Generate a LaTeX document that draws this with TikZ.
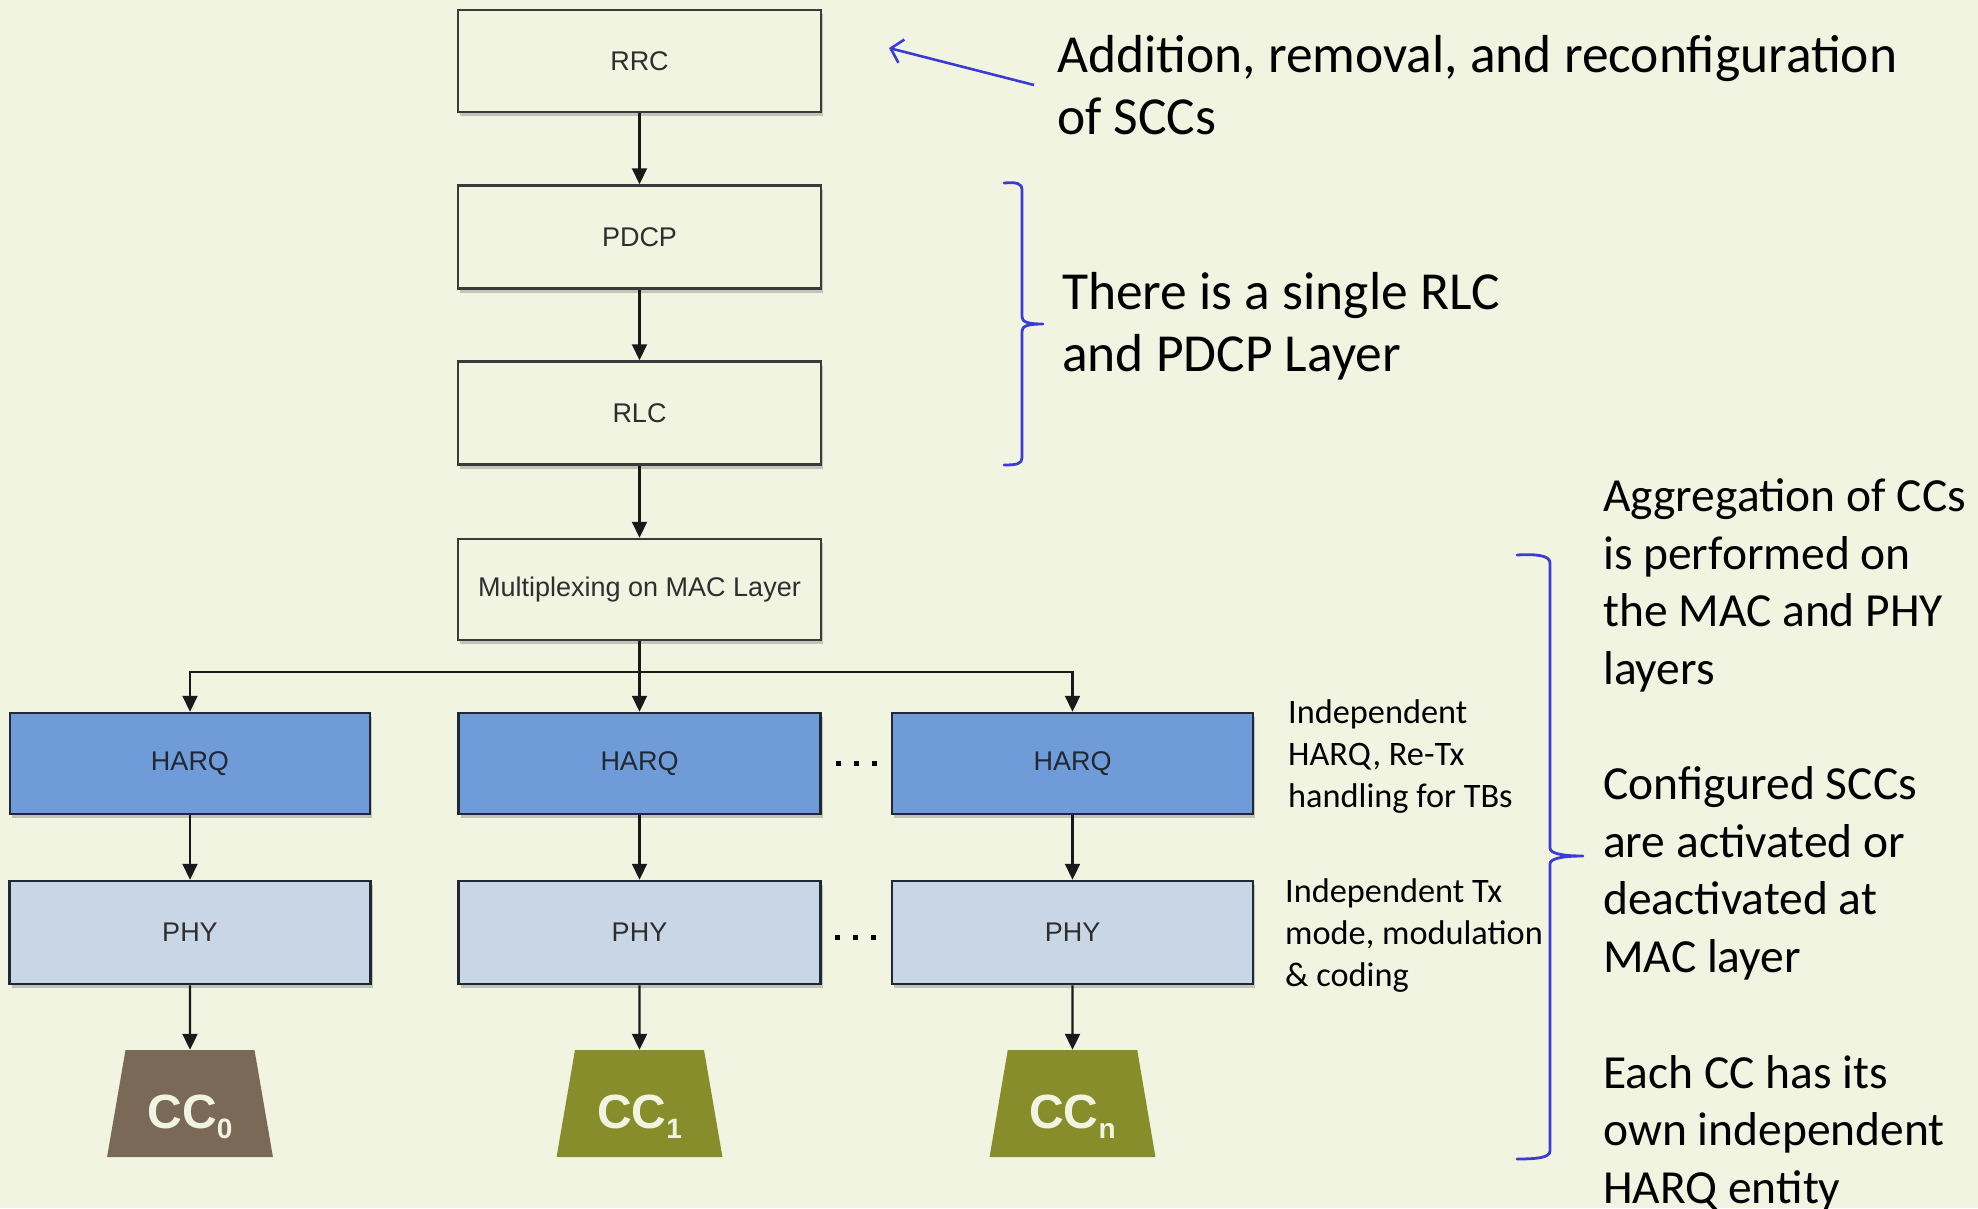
\documentclass[tikz,border=0pt]{standalone}
\usepackage{fontspec}
\setmainfont{Liberation Sans}
\newfontfamily\calibri{Carlito}
\usetikzlibrary{arrows.meta,shapes.geometric,shadows}

\definecolor{bgcol}{HTML}{F1F4E1}
\definecolor{boxline}{HTML}{3A3A3A}
\definecolor{boxtext}{HTML}{2E2E2E}
\definecolor{harqfill}{HTML}{6F9CD9}
\definecolor{harqline}{HTML}{1F2833}
\definecolor{phyfill}{HTML}{C9D6E6}
\definecolor{ccbrown}{HTML}{7A6956}
\definecolor{ccolive}{HTML}{868D2A}
\definecolor{annblue}{HTML}{3C3CD2}
\definecolor{shadowcol}{HTML}{C2C4BA}

\tikzset{
  layer/.style={draw=boxline, line width=2.5pt, fill=bgcol, text=boxtext,
    font=\fontsize{27}{30}\selectfont, inner sep=0pt,
    drop shadow={shadow xshift=2pt, shadow yshift=-4pt, fill=shadowcol, opacity=1}},
  harqbox/.style={layer, draw=harqline, fill=harqfill, text=harqline},
  phybox/.style={layer, draw=harqline, fill=phyfill},
  ccbox/.style={trapezium, trapezium stretches=true, draw=none, inner sep=1pt,
    minimum width=166pt, minimum height=107pt,
    trapezium left angle=76.3, trapezium right angle=76.3,
    text=bgcol, text height=49pt, text depth=0pt,
    font=\bfseries\fontsize{48}{50}\selectfont},
  arr/.style={draw=black!90, line width=2.2pt, -{Triangle[length=16pt,width=15pt]}},
  brace/.style={draw=annblue, line width=2.8pt, line cap=round, line join=round},
  % multi-line notes are anchored on the baseline of their last line
  bigtext/.style={anchor=base west, align=left, inner sep=0pt,
    font=\calibri\fontsize{53.5}{62}\selectfont},
  sidetext/.style={anchor=base west, align=left, inner sep=0pt,
    font=\calibri\fontsize{47.5}{57.5}\selectfont},
  smalltext/.style={anchor=base west, align=left, inner sep=0pt,
    font=\calibri\fontsize{34.3}{42}\selectfont},
  dotsrow/.style={inner sep=0pt, text=black}
}

\newcommand{\sqdots}{\rule{5pt}{5pt}\hspace{13pt}\rule{5pt}{5pt}\hspace{13pt}\rule{5pt}{5pt}}
\newcommand{\ccsub}[1]{\raisebox{-10pt}{\fontsize{28}{28}\selectfont #1}}

\begin{document}
\begin{tikzpicture}[x=1pt,y=-1pt]
  % canvas
  \fill[bgcol] (0,0) rectangle (1978,1208);
  \useasboundingbox (0,0) rectangle (1978,1208);

  % protocol stack
  \node[layer, minimum width=363pt, minimum height=102pt] (rrc)  at (639.5,61)  {RRC};
  \node[layer, minimum width=363pt, minimum height=103pt] (pdcp) at (639.5,237) {PDCP};
  \node[layer, minimum width=363pt, minimum height=103pt] (rlc)  at (639.5,413) {RLC};
  \node[layer, minimum width=363pt, minimum height=101pt] (mac)  at (639.5,589.5) {Multiplexing on MAC Layer};

  % per-carrier HARQ entities
  \node[harqbox, minimum width=360pt, minimum height=101pt] (harq0) at (190,763.5)    {HARQ};
  \node[harqbox, minimum width=362pt, minimum height=101pt] (harq1) at (639.5,763.5)  {HARQ};
  \node[harqbox, minimum width=361pt, minimum height=101pt] (harqn) at (1072.5,763.5) {HARQ};

  % per-carrier PHY
  \node[phybox, minimum width=361pt, minimum height=103pt] (phy0) at (190,932.5)    {PHY};
  \node[phybox, minimum width=362pt, minimum height=103pt] (phy1) at (639.5,932.5)  {PHY};
  \node[phybox, minimum width=361pt, minimum height=103pt] (phyn) at (1072.5,932.5) {PHY};

  \node[dotsrow] (dotsh) at (856,763) {\sqdots};
  \node[dotsrow] (dotsp) at (855,937) {\sqdots};

  % component carriers
  \node[ccbox, fill=ccbrown] (cc0) at (190,1103.5)    {CC\ccsub{0}};
  \node[ccbox, fill=ccolive] (cc1) at (639.5,1103.5)  {CC\ccsub{1}};
  \node[ccbox, fill=ccolive] (ccn) at (1072.5,1103.5) {CC\ccsub{n}};

  % data flow
  \draw[arr] (rrc.south) -- (pdcp.north);
  \draw[arr] (pdcp.south) -- (rlc.north);
  \draw[arr] (rlc.south) -- (mac.north);
  \coordinate (split) at (639.5,672);
  \draw[draw=black!90, line width=2.2pt] (mac.south) -- (split);
  \draw[arr] (split) -| (harq0.north);
  \draw[arr] (split) -- (harq1.north);
  \draw[arr] (split) -| (harqn.north);
  \draw[arr] (harq0.south) -- (phy0.north);
  \draw[arr] (harq1.south) -- (phy1.north);
  \draw[arr] (harqn.south) -- (phyn.north);
  \draw[arr] (phy0.south) -- (cc0.north);
  \draw[arr] (phy1.south) -- (cc1.north);
  \draw[arr] (phyn.south) -- (ccn.north);

  % annotations
  \coordinate (addtail) at (1034,85);
  \coordinate (addtip) at (889,48);
  \draw[draw=annblue, line width=2.6pt, -{Straight Barb[length=11pt,width=24pt,line width=2.6pt]}] (addtail) -- (addtip);
  \node[bigtext] (addtxt) at (1057,134) {Addition, removal, and reconfiguration\\of SCCs};

  \draw[brace] (1004,183) .. controls (1016,182) and (1022,183) .. (1022,190) -- (1022,317)
    .. controls (1022,322) and (1028,324) .. (1043,324)
    .. controls (1028,324) and (1022,326) .. (1022,331) -- (1022,458)
    .. controls (1022,464) and (1016,465) .. (1004,465);
  \node[bigtext] (rlctxt) at (1062,371) {There is a single RLC\\and PDCP Layer};

  \node[smalltext] (harqtxt) at (1288,807) {Independent\\HARQ, Re-Tx\\handling for TBs};
  \node[smalltext] (phytxt)  at (1285,986) {Independent Tx\\mode, modulation\\\& coding};

  \draw[brace] (1517,555) .. controls (1535,554) and (1550,555) .. (1550,563) -- (1550,848)
    .. controls (1550,853) and (1560,856) .. (1583,856)
    .. controls (1560,856) and (1550,859) .. (1550,864) -- (1550,1151)
    .. controls (1550,1158) and (1535,1159) .. (1517,1159);

  \node[sidetext] (aggtxt)  at (1603,684)  {Aggregation of CCs\\is performed on\\the MAC and PHY\\layers};
  \node[sidetext] (acttxt)  at (1603,972)  {Configured SCCs\\are activated or\\deactivated at\\MAC layer};
  \node[sidetext] (harqent) at (1603,1203) {Each CC has its\\own independent\\HARQ entity};
\end{tikzpicture}
\end{document}
